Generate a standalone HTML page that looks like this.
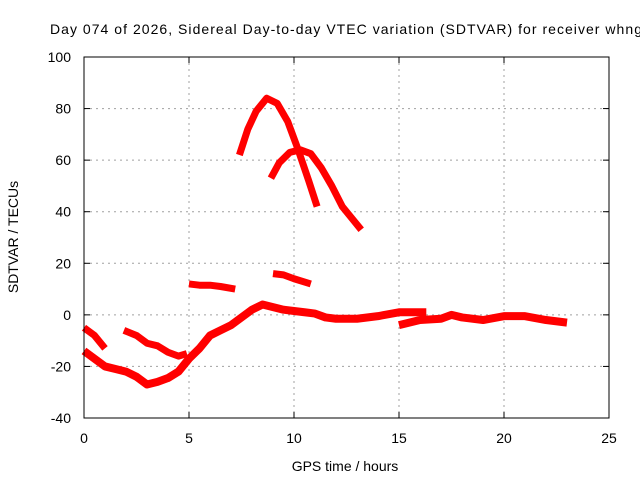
<!DOCTYPE html>
<html><head><meta charset="utf-8"><style>
body{margin:0;background:#fff}
svg{font-family:"Liberation Sans",sans-serif;font-size:14px}
</style></head><body>
<svg width="640" height="480" id="c">
<text x="50" y="34" textLength="592" lengthAdjust="spacing">Day 074 of 2026, Sidereal Day-to-day VTEC variation (SDTVAR) for receiver whng</text>
<text x="345" y="471" text-anchor="middle">GPS time / hours</text>
<text transform="translate(18,237) rotate(-90)" text-anchor="middle">SDTVAR / TECUs</text>
<g id="grid"></g><g id="marks"></g>
<rect x="84" y="57" width="525" height="361" fill="none" stroke="#000" stroke-width="1"/>
</svg>
<script>
const xTicks=[0,5,10,15,20,25];
const yTicks=[-40,-20,0,20,40,60,80,100];
const segA=[[0,-14],[0.5,-17],[1,-20],[1.5,-21],[2,-22],[2.5,-24],[3,-27],[3.5,-26],[4,-24.5],[4.5,-22],[5,-17],[5.5,-13],[6,-8],[6.5,-6],[7,-4],[7.5,-1],[8,2],[8.5,4],[9,3],[9.5,2],[10,1.5],[10.5,1],[11,0.5],[11.5,-1],[12,-1.5],[13,-1.5],[14,-0.5],[15,1],[16.3,1]];
const segB=[[15,-4],[16,-2],[17,-1.5],[17.5,0],[18,-1],[19,-2],[20,-0.5],[21,-0.5],[22,-2],[23,-3]];
const segC=[[0,-5],[0.5,-8],[1,-13]];
const segD=[[1.9,-6],[2.5,-8],[3,-11],[3.5,-12],[4,-14.5],[4.5,-16],[4.9,-15]];
const segE=[[5,12],[5.5,11.5],[6,11.5],[6.5,11],[7.2,10]];
const segF=[[9,16],[9.5,15.5],[10,14],[10.8,12]];
const segG=[[7.4,62],[7.8,72],[8.2,79],[8.7,84],[9.2,82],[9.7,75],[10.2,64],[10.7,52],[11.1,42]];
const segH=[[8.9,53],[9.3,59],[9.8,63],[10.3,64],[10.8,62.5],[11.3,57],[11.8,50],[12.3,42],[12.8,37],[13.2,33]];
const series=[segA,segB,segC,segD,segE,segF,segG,segH];
const X=v=>84+v*21, Y=v=>57+(100-v)*361/140;
const NS="http://www.w3.org/2000/svg";
const grid=document.getElementById('grid'), marks=document.getElementById('marks');
function mk(t,a,p){const e=document.createElementNS(NS,t);for(const k in a)e.setAttribute(k,a[k]);p.appendChild(e);return e;}
xTicks.forEach(t=>{
 if(t>0&&t<25){const l=mk('line',{x1:X(t),x2:X(t),y1:57,y2:418,stroke:'#a0a0a0','stroke-dasharray':'2,4'},grid);
 
 }
 mk('line',{x1:X(t),x2:X(t),y1:418,y2:412,stroke:'#000'},grid);
 mk('line',{x1:X(t),x2:X(t),y1:57,y2:63,stroke:'#000'},grid);
 const tx=mk('text',{x:X(t),y:443,'text-anchor':'middle'},grid);tx.textContent=t;
 
 
});
yTicks.forEach(t=>{
 if(t>-40&&t<100){const l=mk('line',{x1:84,x2:609,y1:Y(t),y2:Y(t),stroke:'#a0a0a0','stroke-dasharray':'2,4'},grid);
 
 }
 mk('line',{x1:84,x2:90,y1:Y(t),y2:Y(t),stroke:'#000'},grid);
 mk('line',{x1:609,x2:603,y1:Y(t),y2:Y(t),stroke:'#000'},grid);
 const tx=mk('text',{x:71,y:Y(t)+5,'text-anchor':'end'},grid);tx.textContent=t;
 
 
});
series.forEach((s,i)=>{
 const p=mk('polyline',{points:s.map(d=>X(d[0])+','+Y(d[1])).join(' '),fill:'none',stroke:'#ff0000','stroke-width':i<2?8:7,'stroke-linejoin':'round','stroke-linecap':'butt'},marks);
 
 
});
</script>
</body></html>
